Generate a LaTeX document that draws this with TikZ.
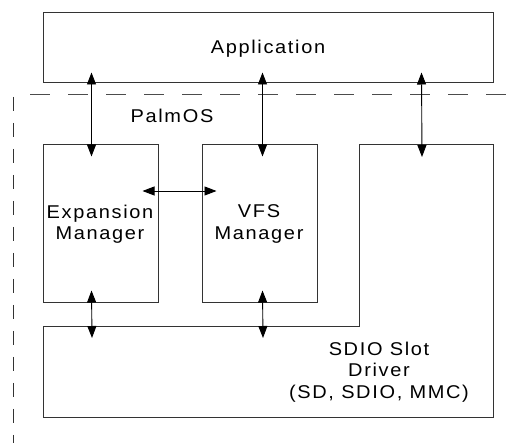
\documentclass[tikz,border=0pt]{standalone}
\usepackage{fontspec}
\setmainfont{Liberation Sans}
\newfontfamily\lsfont[LetterSpace=9,FakeStretch=1.08]{Liberation Sans}
\usetikzlibrary{arrows.meta}
\tikzset{
  box/.style={draw=black!80, line width=1pt, inner sep=0pt, fill=none},
  lbl/.style={font=\fontsize{18.5}{21.5}\selectfont\lsfont, align=center, inner sep=0pt},
  biarrow/.style={draw=black, line width=0.9pt, {Triangle[length=12pt,width=9pt]}-{Triangle[length=12pt,width=9pt]}},
  border/.style={draw=black!70, line width=1pt, dash pattern=on 20pt off 18pt},
  vborder/.style={draw=black!80, line width=1pt, dash pattern=on 14pt off 12pt}
}
\begin{document}
\begin{tikzpicture}[x=1pt,y=-1pt]
\useasboundingbox (0,0) rectangle (507,443);
\fill[white] (0,0) rectangle (507,443);
% boxes
\node[box, minimum width=450pt, minimum height=70pt] (app) at (268,48) {};
\node[lbl] (applbl) at (268,49) {Application};
\node[box, minimum width=115pt, minimum height=158pt] (exp) at (100.5,224) {};
\node[box, minimum width=115pt, minimum height=158pt] (vfs) at (259.5,224) {};
\node[lbl] (explbl) at (100,224) {Expansion\\Manager};
\node[lbl] (vfslbl) at (259,224) {VFS\\Manager};
% SDIO slot driver polygon
\draw[draw=black!80, line width=1pt] (43,327) coordinate (sd1) -- (359,327) coordinate (sd2) -- (359,145) coordinate (sd3)
  -- (493,145) coordinate (sd4) -- (493,418) coordinate (sd5) -- (43,418) coordinate (sd6) -- cycle;
\node[lbl] (sdlbl) at (379,372) {SDIO Slot\\Driver\\(SD, SDIO, MMC)};
\node[lbl] (palm) at (172,116) {PalmOS};
% dashed border
\coordinate (hb1) at (30,95);
\coordinate (hb2) at (507,95);
\coordinate (vb1) at (13,97);
\coordinate (vb2) at (13,443);
\draw[border] (hb1) -- (hb2);
\draw[vborder] (vb1) -- (vb2);
% arrow end points
\path (app.south west) ++(49,-11) coordinate (a1t);
\path (exp.north west) ++(49,12) coordinate (a1b);
\path (app.south west) ++(220,-11) coordinate (a2t);
\path (vfs.north west) ++(61,12) coordinate (a2b);
\path (app.south west) ++(379,-11) coordinate (a3t);
\path (sd3) ++(63,12) coordinate (a3b);
\path (exp.east) ++(-16,-33) coordinate (h1);
\path (vfs.west) ++(15,-33) coordinate (h2);
\path (exp.south west) ++(49,-13) coordinate (b1t);
\path (sd1) ++(49,11) coordinate (b1b);
\path (vfs.south west) ++(61,-13) coordinate (b2t);
\path (sd1) ++(220,11) coordinate (b2b);
% arrows
\draw[biarrow] (a1t) -- (a1b);
\draw[biarrow] (a2t) -- (a2b);
\draw[biarrow] (a3t) -- (a3b);
\draw[biarrow] (h1) -- (h2);
\draw[biarrow] (b1t) -- (b1b);
\draw[biarrow] (b2t) -- (b2b);
\end{tikzpicture}
\end{document}
